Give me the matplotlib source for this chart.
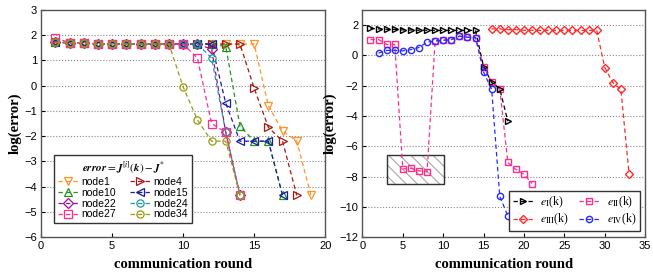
import numpy as np
import matplotlib
matplotlib.use('Agg')
import matplotlib.pyplot as plt
from matplotlib.patches import Rectangle

plt.rcParams['mathtext.fontset'] = 'stix'
plt.rcParams['hatch.color'] = '#8c8c8c'
plt.rcParams['hatch.linewidth'] = 0.8

# ---- left panel: per-node error ----
rounds_left = np.arange(1, 20)
nan = np.nan

node1 = [1.72, 1.7, 1.7, 1.65, 1.65, 1.65, 1.65, 1.65, 1.65, 1.65, 1.65, 1.65, 1.65, 1.65, 1.65, -0.8, -1.8, -2.2, -4.35]
node4 = [1.72, 1.7, 1.7, 1.65, 1.65, 1.65, 1.65, 1.65, 1.65, 1.65, 1.65, 1.65, 1.65, 1.65, -0.1, -1.65, -2.2, -4.35, nan]
node10 = [1.72, 1.7, 1.7, 1.65, 1.65, 1.65, 1.65, 1.65, 1.65, 1.65, 1.65, 1.65, 1.55, -1.6, -2.2, -2.2, -4.35, nan, nan]
node15 = [1.75, 1.7, 1.7, 1.65, 1.65, 1.65, 1.65, 1.65, 1.65, 1.65, 1.65, 1.65, -0.7, -2.2, -2.2, -2.2, -4.35, nan, nan]
node22 = [1.72, 1.7, 1.7, 1.65, 1.65, 1.65, 1.65, 1.65, 1.65, 1.65, 1.65, 1.45, -1.85, -4.35, nan, nan, nan, nan, nan]
node24 = [1.72, 1.7, 1.7, 1.65, 1.65, 1.65, 1.65, 1.65, 1.65, 1.65, 1.65, 1.1, -1.85, -4.35, nan, nan, nan, nan, nan]
node27 = [1.9, 1.7, 1.7, 1.65, 1.65, 1.65, 1.65, 1.65, 1.65, 1.65, 1.1, -1.5, -1.85, -4.35, nan, nan, nan, nan, nan]
node34 = [1.72, 1.7, 1.7, 1.65, 1.65, 1.65, 1.65, 1.65, 1.65, -0.05, -1.35, -2.2, -2.2, -4.35, nan, nan, nan, nan, nan]

left_series = [
    ('node1', node1, '#FF9326', 'v'),
    ('node4', node4, '#A51616', '>'),
    ('node10', node10, '#1E961E', '^'),
    ('node15', node15, '#1A1AA6', '<'),
    ('node22', node22, '#9A0FA0', 'D'),
    ('node24', node24, '#1E9A9A', 'o'),
    ('node27', node27, '#FF2E8C', 's'),
    ('node34', node34, '#9A9A0F', 'o'),
]

# ---- right panel: group errors ----
rounds_right = np.arange(1, 34)
e1 = [1.78, 1.75, 1.72, 1.72, 1.68, 1.68, 1.66, 1.66, 1.65, 1.65, 1.65, 1.65, 1.65, 1.65,
      -0.75, -1.78, -2.2, -4.35] + [nan] * 15
e2 = [1.05, 1.05, 0.72, 0.72, -7.5, -7.45, -7.62, -7.69, 0.95, 1.0, 1.05, 1.27, 1.2, 1.17,
      -0.75, -1.78, -2.2, -7.07, -7.53, -7.86, -8.46] + [nan] * 12
e3 = [nan] * 15 + [1.75, 1.75, 1.7, 1.7, 1.66, 1.66, 1.65, 1.65, 1.65, 1.65, 1.65, 1.65, 1.65, 1.65,
                   -0.8, -1.8, -2.25, -7.8]
e4 = [nan, 0.15, 0.33, 0.33, 0.3, 0.38, 0.52, 0.88, 0.95, 1.0, 1.05, 1.27, 1.2, 1.17,
      -1.1, -2.25, -9.3, -10.6] + [nan] * 15

fig = plt.figure(figsize=(6.53, 2.77), dpi=100)
ax1 = fig.add_axes([0.063, 0.144, 0.435, 0.82])
ax2 = fig.add_axes([0.555, 0.144, 0.433, 0.82])

tick_font = 'Liberation Sans'
serif = 'Liberation Serif'
dash = (3.5, 2.5)

handles = {}
for name, vals, col, mk in left_series:
    h, = ax1.plot(rounds_left, vals, linestyle='--', dashes=dash, color=col, marker=mk, markersize=5.2,
                  markerfacecolor='none', markeredgewidth=0.9, linewidth=0.9, label=name)
    handles[name] = h

ax1.set_xlim(0, 20)
ax1.set_ylim(-6, 3)
ax1.set_xticks(range(0, 21, 5))
ax1.set_yticks(range(-6, 4))
for y in range(-5, 3):
    ax1.axhline(y, color='#888888', linestyle=':', linewidth=0.8, zorder=0)

order = ['node1', 'node10', 'node22', 'node27', 'node4', 'node15', 'node24', 'node34']
leg1 = ax1.legend([handles[n] for n in order], order,
                  loc='lower left', bbox_to_anchor=(0.045, 0.062), borderaxespad=0, ncol=2, fontsize=7.5,
                  title=r'$\mathbfit{error} = \mathbfit{J}^{[i]}(\mathbfit{k}) - \mathbfit{J}^{*}$',
                  title_fontsize=8, fancybox=False, edgecolor='#333333', framealpha=1,
                  handlelength=2.0, handletextpad=0.3, columnspacing=1.3, labelspacing=0.08,
                  borderpad=0.35)
leg1.get_frame().set_linewidth(1.0)
for t in leg1.get_texts():
    t.set_fontfamily(tick_font)

# right panel: hatched box around the low e_II values (light hatch, dark outline)
box = (3.1, -8.5)
ax2.add_patch(Rectangle(box, 7.0, 1.95, facecolor='white', edgecolor='#a8a8a8',
                        hatch='\\\\\\', linewidth=0.8, zorder=1))
ax2.add_patch(Rectangle(box, 7.0, 1.95, fill=False, edgecolor='#333333',
                        linewidth=1.0, zorder=1.1))

h1, = ax2.plot(rounds_right, e1, '--', dashes=dash, color='black', marker='>', markersize=4.5,
               markerfacecolor='none', linewidth=0.9, zorder=3)
h2, = ax2.plot(rounds_right, e2, '--', dashes=dash, color='#FF2E8C', marker='s', markersize=4.5,
               markerfacecolor='none', linewidth=0.9, zorder=2)
h3, = ax2.plot(rounds_right, e3, '--', dashes=dash, color='#FF2A2A', marker='D', markersize=4.2,
               markerfacecolor='none', linewidth=0.9, zorder=3)
h4, = ax2.plot(rounds_right, e4, '--', dashes=dash, color='#2A2AFF', marker='o', markersize=4.5,
               markerfacecolor='none', linewidth=0.9, zorder=3)

ax2.set_xlim(0, 35)
ax2.set_ylim(-12, 3)
ax2.set_xticks(range(0, 36, 5))
ax2.set_yticks(range(-12, 3, 2))
for y in range(-10, 3, 2):
    ax2.axhline(y, color='#888888', linestyle=':', linewidth=0.8, zorder=0)

leg2 = ax2.legend([h1, h3, h2, h4],
                  [r'$e_{\rm I}$(k)', r'$e_{\rm III}$(k)', r'$e_{\rm II}$(k)', r'$e_{\rm IV}$(k)'],
                  loc='lower right', bbox_to_anchor=(0.98, 0.027), borderaxespad=0, ncol=2,
                  prop={'family': serif, 'size': 8.5}, fancybox=False, edgecolor='#333333',
                  framealpha=1, handlelength=1.7, handletextpad=0.6, columnspacing=0.9,
                  labelspacing=0.15, borderpad=0.3)
leg2.get_frame().set_linewidth(1.0)

for ax in (ax1, ax2):
    ax.tick_params(direction='in', labelsize=8, length=3, pad=3)
    for lab in ax.get_xticklabels() + ax.get_yticklabels():
        lab.set_fontfamily(tick_font)
    for sp in ax.spines.values():
        sp.set_color('#555555')
        sp.set_linewidth(1.0)
    ax.set_xlabel('communication round', fontfamily=serif, fontweight='bold', fontsize=10.5, labelpad=5)
    ax.set_ylabel('log(error)', fontfamily=serif, fontweight='bold', fontsize=10.5, labelpad=2)

fig.savefig('out.png', dpi=100)
